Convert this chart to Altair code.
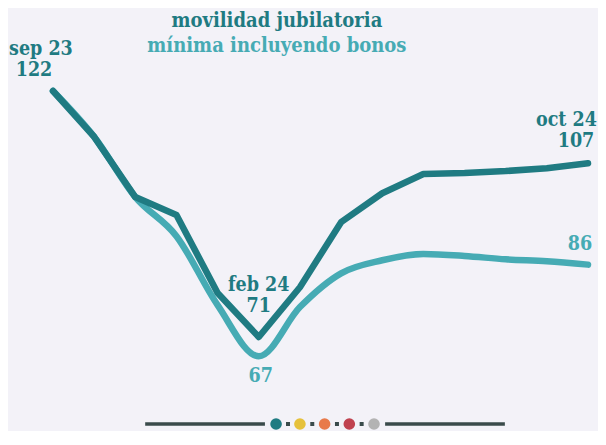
import altair as alt
import pandas as pd

months = ["sep 23", "oct 23", "nov 23", "dic 23", "ene 24", "feb 24", "mar 24",
          "abr 24", "may 24", "jun 24", "jul 24", "ago 24", "sep 24", "oct 24"]
movilidad = [122, 112.5, 100, 96.3, 80.1, 71, 81.3, 94.8, 100.8, 104.8, 105.0, 105.4, 106.0, 107]
minima_bonos = [122, 112.5, 100, 91.9, 77.6, 67, 77.2, 84.2, 86.9, 88.2, 87.8, 87.1, 86.7, 86]

title_1 = "movilidad jubilatoria"
title_2 = "mínima incluyendo bonos"

DARK = "#1f7b82"
LIGHT = "#46abb4"
BG = "#f3f2f8"
FONT = "DejaVu Serif Condensed, DejaVu Serif"

# decoration (in x-index / value units)
deco_y = 52.96
deco_segments_x = [(2.24, 5.15), (8.07, 10.98)]
deco_dot_x = [5.42, 6.0, 6.6, 7.2, 7.8]
deco_dot_colors = ["#1f7b82", "#e6c13b", "#e87a4a", "#c0424f", "#b3b3b3"]
deco_sep_x = [5.71, 6.30, 6.90, 7.50]

df = pd.DataFrame({
    "idx": list(range(len(months))) * 2,
    "mes": months * 2,
    "valor": movilidad + minima_bonos,
    "serie": [title_1] * len(months) + [title_2] * len(months),
})

xs = alt.Scale(domain=[-1.0935, 13.243], nice=False, zero=False)
ys = alt.Scale(domain=[51.51, 139.2], nice=False, zero=False)
X = lambda f: alt.X(f, type="quantitative", scale=xs, axis=None)
Y = lambda f: alt.Y(f, type="quantitative", scale=ys, axis=None)

light_line = alt.Chart(df[df.serie == title_2]).mark_line(
    color=LIGHT, strokeWidth=6.5, strokeCap="round", strokeJoin="round", interpolate="monotone"
).encode(x=X("idx"), y=Y("valor"))

dark_line = alt.Chart(df[df.serie == title_1]).mark_line(
    color=DARK, strokeWidth=6.5, strokeCap="round", strokeJoin="round"
).encode(x=X("idx"), y=Y("valor"))

layers = [light_line, dark_line]

# labels anchored at data points: (index, value, text, colour, dx, dy, align)
labels = [
    (0, movilidad[0], months[0], DARK, -44, -36, "left"),
    (0, movilidad[0], "122", DARK, -19, -15, "center"),
    (5, movilidad[5], months[5], DARK, 0, -46, "center"),
    (5, movilidad[5], "71", DARK, 0, -25, "center"),
    (5, minima_bonos[5], "67", LIGHT, 2, 26, "center"),
    (13, movilidad[13], months[13], DARK, 9, -37, "right"),
    (13, movilidad[13], "107", DARK, -12, -16, "center"),
    (13, minima_bonos[13], "86", LIGHT, -8, -15, "center"),
]
for i, v, t, c, dx, dy, al in labels:
    layers.append(
        alt.Chart(pd.DataFrame({"idx": [i], "valor": [v], "t": [t]})).mark_text(
            font=FONT, fontWeight="bold", fontSize=19.5, color=c, dx=dx, dy=dy,
            align=al, baseline="alphabetic"
        ).encode(x=X("idx"), y=Y("valor"), text="t:N")
    )

# title lines
title_df = pd.DataFrame({"idx": [5.44, 5.44], "valor": [135.26, 130.08], "t": [title_1, title_2],
                         "c": [DARK, LIGHT]})
layers.append(
    alt.Chart(title_df).mark_text(
        font=FONT, fontWeight="bold", fontSize=20, align="center", baseline="alphabetic"
    ).encode(x=X("idx"), y=Y("valor"), text="t:N",
             color=alt.Color("c:N", scale=None))
)

# decoration
seg_df = pd.DataFrame({"x1": [s[0] for s in deco_segments_x], "x2": [s[1] for s in deco_segments_x],
                       "y": [deco_y] * 2})
layers.append(alt.Chart(seg_df).mark_rule(color="#3a4b4b", strokeWidth=3.5).encode(
    x=X("x1"), x2="x2", y=Y("y")))
sep_df = pd.DataFrame({"x": deco_sep_x, "y": [deco_y] * len(deco_sep_x)})
layers.append(alt.Chart(sep_df).mark_square(color="#3a4b4b", size=16, opacity=1).encode(
    x=X("x"), y=Y("y")))
dot_df = pd.DataFrame({"x": deco_dot_x, "y": [deco_y] * 5, "c": deco_dot_colors})
layers.append(alt.Chart(dot_df).mark_circle(size=135, opacity=1).encode(
    x=X("x"), y=Y("y"), color=alt.Color("c:N", scale=None)))

chart = alt.layer(*layers).properties(
    width=590, height=423, padding=0, background=BG
).configure_view(stroke=None)

chart.save("out.html", embed_options={"renderer": "svg", "actions": False})
